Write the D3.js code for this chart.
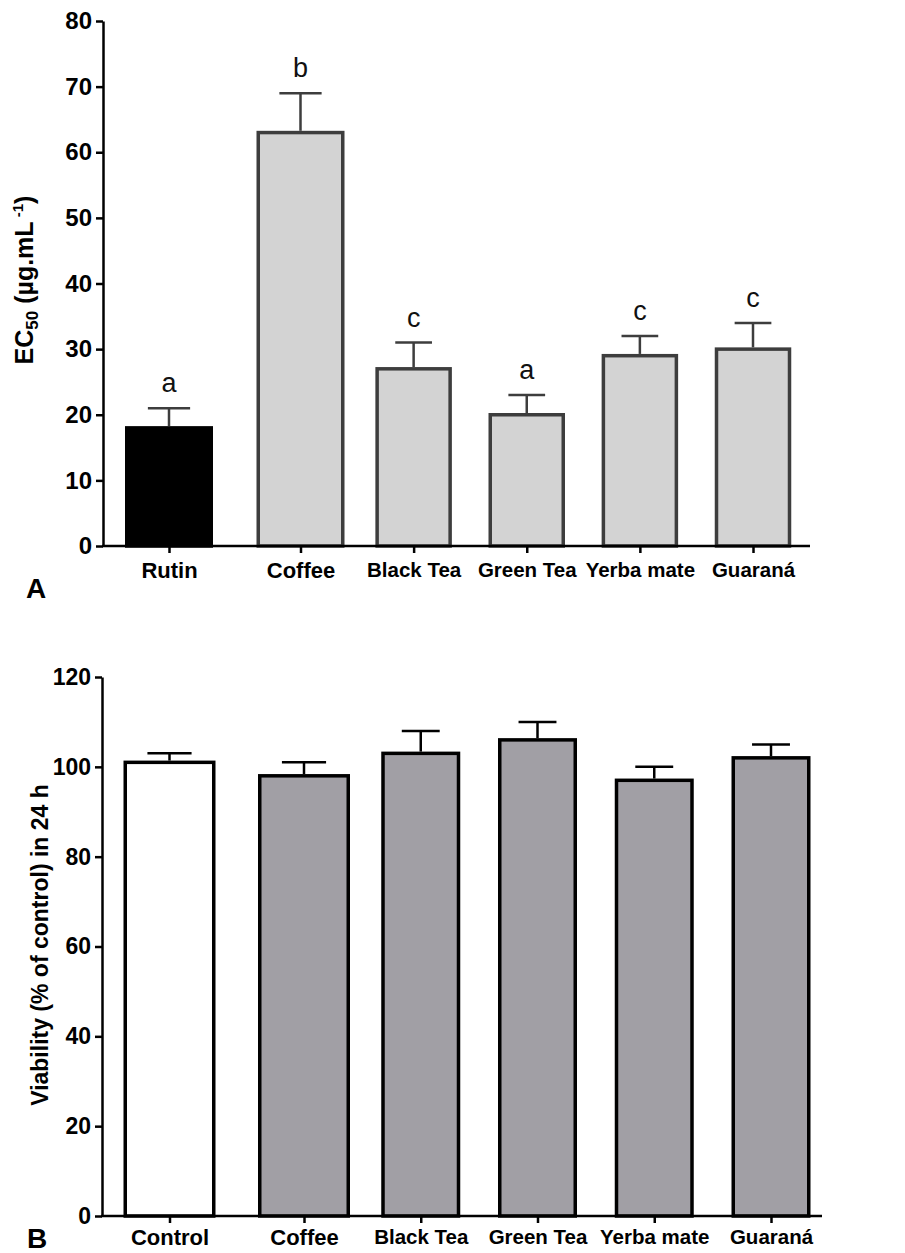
<!DOCTYPE html>
<html>
<head>
<meta charset="utf-8">
<script src="https://cdn.jsdelivr.net/npm/d3@7"></script>
<style>
  body { margin: 0; background: #fff; }
  svg { display: block; font-family: "Liberation Sans", Arial, sans-serif; }
</style>
</head>
<body>
<div id="chart"></div>
<script>
// panel A: EC50 values
const catsA = ["Rutin", "Coffee", "Black Tea", "Green Tea", "Yerba mate", "Guaraná"];
const ec50 = [18, 63, 27, 20, 29, 30];
const ec50Err = [3, 6, 4, 3, 3, 4];
const ec50Letters = ["a", "b", "c", "a", "c", "c"];
const ticksA = [0, 10, 20, 30, 40, 50, 60, 70, 80];

// panel B: viability
const catsB = ["Control", "Coffee", "Black Tea", "Green Tea", "Yerba mate", "Guaraná"];
const viability = [101, 98, 103, 106, 97, 102];
const viabilityErr = [2, 3, 5, 4, 3, 3];
const ticksB = [0, 20, 40, 60, 80, 100, 120];

const width = 905, height = 1253;

const svg = d3.select("#chart").append("svg")
    .attr("width", width)
    .attr("height", height);

function drawPanel(cfg) {
    const n = cfg.cats.length;
    const g = svg.append("g");

    const y = d3.scaleLinear().domain([0, cfg.yMax]).range([cfg.oy, cfg.top]);

    // uniform spacing from the 2nd bar on; first bar sits a bit further left
    const step = (cfg.last - cfg.second) / (n - 2);
    const pad = 1 - cfg.narrow / step;
    const r0 = cfg.second - step - cfg.narrow / 2;
    const x = d3.scaleBand().domain(cfg.cats)
        .range([r0, r0 + step * (n - pad)])
        .paddingInner(pad).paddingOuter(0);
    const shift = cfg.second - step - cfg.first;
    const cx = (c, i) => x(c) + x.bandwidth() / 2 - (i === 0 ? shift : 0);
    const bw = i => i < 2 ? cfg.wide : x.bandwidth();
    const xc = d3.scaleOrdinal(cfg.cats, cfg.cats.map(cx));

    const rows = cfg.cats.map((c, i) => ({c, i, v: cfg.vals[i], e: cfg.errs[i]}));

    // bars
    g.selectAll("rect.bar").data(rows).join("rect")
        .attr("class", "bar")
        .attr("x", d => cx(d.c, d.i) - bw(d.i) / 2 + cfg.barStroke / 2)
        .attr("width", d => bw(d.i) - cfg.barStroke)
        .attr("y", d => y(d.v))
        .attr("height", d => y(0) - y(d.v))
        .attr("fill", d => cfg.fill(d.i))
        .attr("stroke", d => cfg.stroke(d.i))
        .attr("stroke-width", cfg.barStroke);

    // error bars (upper only)
    const err = g.selectAll("g.err").data(rows).join("g")
        .attr("class", "err")
        .attr("stroke", d => cfg.errColor(d.i))
        .attr("stroke-width", 2.5);
    err.append("line")
        .attr("x1", d => cx(d.c, d.i)).attr("x2", d => cx(d.c, d.i))
        .attr("y1", d => y(d.v) - cfg.barStroke / 2).attr("y2", d => y(d.v + d.e));
    err.append("line")
        .attr("x1", d => cx(d.c, d.i) - bw(d.i) * 0.24)
        .attr("x2", d => cx(d.c, d.i) + bw(d.i) * 0.24)
        .attr("y1", d => y(d.v + d.e)).attr("y2", d => y(d.v + d.e));

    // significance letters
    if (cfg.letters) {
        g.selectAll("text.sig").data(rows).join("text")
            .attr("class", "sig")
            .attr("x", d => cx(d.c, d.i))
            .attr("y", d => y(d.v + d.e) - 16)
            .attr("text-anchor", "middle")
            .attr("font-size", 27)
            .attr("fill", "#111")
            .text(d => cfg.letters[d.i]);
    }

    // y axis
    const yAxis = g.append("g")
        .attr("transform", `translate(${cfg.ox},0)`)
        .call(d3.axisLeft(y).tickValues(cfg.ticks).tickSize(7).tickSizeOuter(0).tickPadding(4));
    yAxis.selectAll("path, line").attr("stroke", "#000").attr("stroke-width", 2.5);
    yAxis.selectAll("text")
        .attr("font-size", cfg.tickFont)
        .attr("font-weight", "bold")
        .attr("font-family", "Liberation Sans, Arial, sans-serif")
        .attr("fill", "#000");

    // x axis
    g.append("line")
        .attr("x1", cfg.ox - 1).attr("x2", cfg.right)
        .attr("y1", cfg.oy).attr("y2", cfg.oy)
        .attr("stroke", "#000").attr("stroke-width", 2.5);
    const xAxis = g.append("g")
        .attr("transform", `translate(0,${cfg.oy})`)
        .call(d3.axisBottom(xc).tickSize(7).tickPadding(cfg.xPad));
    xAxis.select(".domain").remove();
    xAxis.selectAll("line").attr("stroke", "#000").attr("stroke-width", 2.5);
    xAxis.selectAll("text")
        .attr("font-size", (d, i) => i < 2 ? 22 : 20.5)
        .attr("font-weight", "bold")
        .attr("font-family", "Liberation Sans, Arial, sans-serif")
        .attr("fill", "#000");

    // panel letter
    g.append("text")
        .attr("x", cfg.tagX).attr("y", cfg.tagY)
        .attr("font-size", 28).attr("font-weight", "bold")
        .text(cfg.tag);

    return {g, y};
}

const pA = drawPanel({
    cats: catsA, vals: ec50, errs: ec50Err, letters: ec50Letters, ticks: ticksA, yMax: 80,
    ox: 103, oy: 546, top: 21, right: 810,
    first: 169, second: 300.5, last: 753, wide: 88, narrow: 76.5,
    barStroke: 3.5,
    fill: i => i === 0 ? "#000" : "#d3d3d3",
    stroke: i => i === 0 ? "#000" : "#3d3d3d",
    errColor: i => "#3d3d3d",
    tickFont: 24, xPad: 9,
    tag: "A", tagX: 26, tagY: 598
});

// EC50 axis title with sub/superscripts
const titleA = pA.g.append("text")
    .attr("transform", "translate(33,280) rotate(-90)")
    .attr("text-anchor", "middle")
    .attr("font-size", 25)
    .attr("font-weight", "bold");
titleA.append("tspan").text("EC");
titleA.append("tspan").attr("font-size", 17).attr("dy", 5).text("50");
titleA.append("tspan").attr("dy", -5).text(" (µg.mL");
titleA.append("tspan").attr("font-size", 15).attr("dy", -10).text(" -1");
titleA.append("tspan").attr("dy", 10).text(")");

const pB = drawPanel({
    cats: catsB, vals: viability, errs: viabilityErr, letters: null, ticks: ticksB, yMax: 120,
    ox: 102, oy: 1216, top: 677, right: 822,
    first: 169.5, second: 304, last: 771, wide: 92, narrow: 79,
    barStroke: 3.5,
    fill: i => i === 0 ? "#fff" : "#a19fa5",
    stroke: i => "#000",
    errColor: i => "#000",
    tickFont: 23, xPad: 6,
    tag: "B", tagX: 27, tagY: 1248
});

pB.g.append("text")
    .attr("transform", "translate(48,945) rotate(-90)")
    .attr("text-anchor", "middle")
    .attr("font-size", 23)
    .attr("font-weight", "bold")
    .text("Viability (% of control) in 24 h");
</script>
</body>
</html>
